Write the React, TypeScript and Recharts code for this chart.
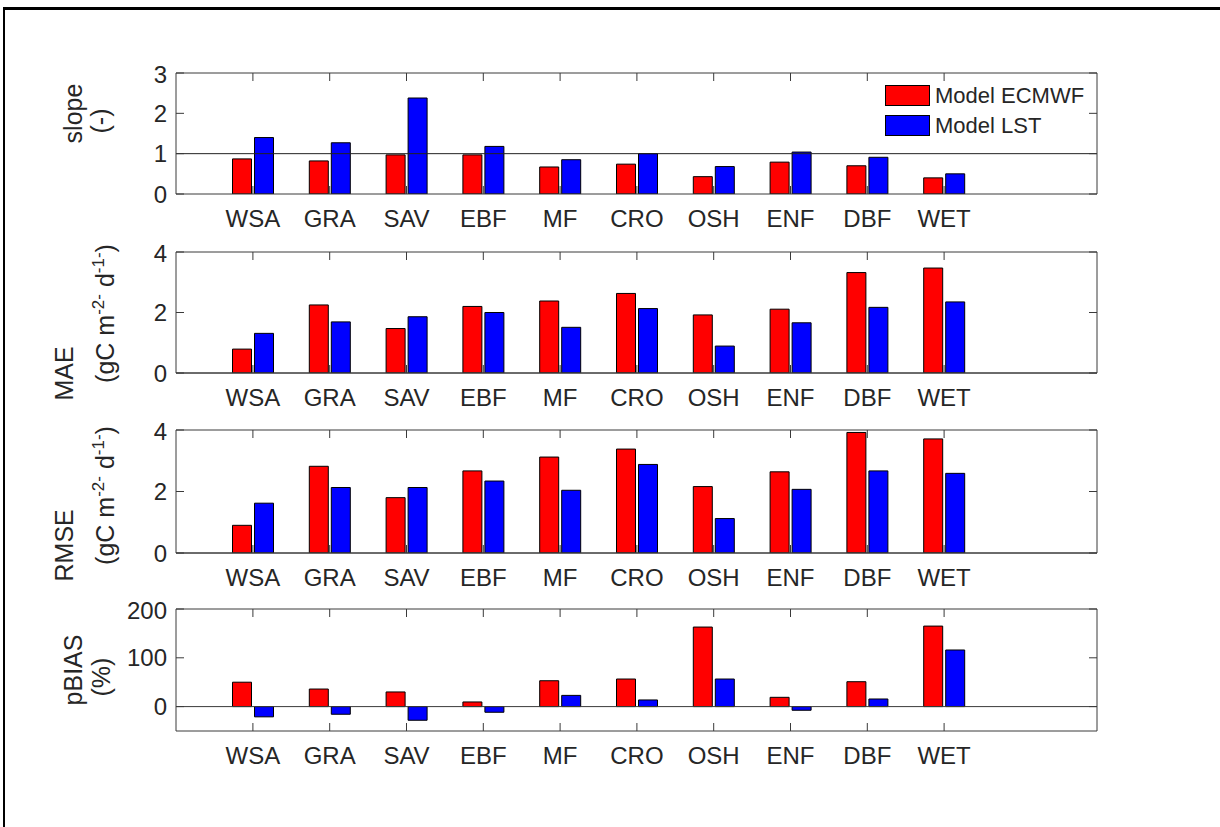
import React from "react";
import { BarChart, Bar, XAxis, YAxis, ReferenceLine, Legend, Label } from "recharts";

const CATEGORIES = ["WSA", "GRA", "SAV", "EBF", "MF", "CRO", "OSH", "ENF", "DBF", "WET"];

const SLOPE_ECMWF = [0.87, 0.82, 0.97, 0.97, 0.67, 0.74, 0.43, 0.79, 0.7, 0.4];
const SLOPE_LST = [1.4, 1.27, 2.38, 1.18, 0.85, 1.0, 0.68, 1.04, 0.91, 0.5];

const MAE_ECMWF = [0.79, 2.25, 1.47, 2.2, 2.38, 2.63, 1.92, 2.11, 3.32, 3.47];
const MAE_LST = [1.31, 1.69, 1.86, 2.0, 1.51, 2.13, 0.89, 1.66, 2.17, 2.35];

const RMSE_ECMWF = [0.9, 2.82, 1.8, 2.67, 3.12, 3.38, 2.16, 2.64, 3.92, 3.71];
const RMSE_LST = [1.62, 2.13, 2.13, 2.34, 2.04, 2.88, 1.12, 2.07, 2.67, 2.59];

const PBIAS_ECMWF = [50, 36, 30, 9.5, 53, 56.5, 163, 19, 51, 165];
const PBIAS_LST = [-21, -15.7, -28, -11.6, 23, 13.6, 56.5, -7.5, 15.6, 116];

const SLOPE_TICKS = [0, 1, 2, 3];
const MAE_TICKS = [0, 2, 4];
const RMSE_TICKS = [0, 2, 4];
const PBIAS_TICKS = [0, 100, 200];

const FONT = "'Liberation Sans', Arial, Helvetica, sans-serif";
const AXIS = "#3a3a3a";
const TEXT = "#262626";
const CHART_W = 1220;
const M_TOP = 12;
const M_BOTTOM = 50;

const tickStyle = { fill: TEXT, fontSize: 24, fontFamily: FONT };

type YLabelLine = {
  text: React.ReactNode;
  x: number;
  dy: number;
  anchor?: "start" | "middle" | "end";
};

const unitLine = (
  <>
    (gC m
    <tspan dy={-10} fontSize={17}>
      -2-
    </tspan>
    <tspan dy={10}> d</tspan>
    <tspan dy={-10} fontSize={17}>
      -1-
    </tspan>
    <tspan dy={10}>)</tspan>
  </>
);

function makeYLabel(lines: YLabelLine[]) {
  return (props: any) => {
    const vb = props.viewBox || {};
    const cy = vb.y + vb.height / 2;
    return (
      <g>
        {lines.map((l, i) => (
          <text
            key={i}
            x={l.x}
            y={cy + l.dy}
            transform={`rotate(-90, ${l.x}, ${cy + l.dy})`}
            textAnchor={l.anchor || "middle"}
            fill={TEXT}
            fontSize={25}
            fontFamily={FONT}
          >
            {l.text}
          </text>
        ))}
      </g>
    );
  };
}

function renderLegend(props: any) {
  const { payload } = props;
  return (
    <div style={{ fontFamily: FONT }}>
      {(payload || []).map((entry: any) => (
        <div key={entry.value} style={{ display: "flex", alignItems: "center", height: 30 }}>
          <span
            style={{
              display: "inline-block",
              width: 45,
              height: 21,
              background: entry.color,
              border: "1px solid #000",
              boxSizing: "border-box",
            }}
          />
          <span style={{ marginLeft: 5, fontSize: 22, color: TEXT }}>{entry.value}</span>
        </div>
      ))}
    </div>
  );
}

interface PanelProps {
  plotTop: number;
  plotBottom: number;
  ecmwf: number[];
  lst: number[];
  domain: [number, number];
  ticks: number[];
  refY: number;
  refColor: string;
  ylabel: YLabelLine[];
  showLegend?: boolean;
}

function Panel({ plotTop, plotBottom, ecmwf, lst, domain, ticks, refY, refColor, ylabel, showLegend }: PanelProps) {
  const data = CATEGORIES.map((cat, i) => ({ cat, ecmwf: ecmwf[i], lst: lst[i] }));
  const height = M_TOP + (plotBottom - plotTop) + M_BOTTOM;
  const padding = { left: 38.5, right: 114.5 };

  return (
    <div style={{ position: "absolute", left: 0, top: plotTop - M_TOP }}>
      <BarChart
        width={CHART_W}
        height={height}
        data={data}
        margin={{ top: M_TOP - 1, right: 122, bottom: M_BOTTOM - 1, left: 175 }}
        barCategoryGap={18}
        barGap={3}
      >
        <XAxis
          dataKey="cat"
          height={1}
          interval={0}
          padding={padding}
          tickSize={-8}
          tickMargin={24}
          tick={tickStyle}
          axisLine={{ stroke: AXIS }}
          tickLine={{ stroke: AXIS }}
        />
        <XAxis
          xAxisId="top"
          dataKey="cat"
          orientation="top"
          height={1}
          interval={0}
          padding={padding}
          tickSize={-8}
          tickFormatter={() => ""}
          axisLine={{ stroke: AXIS }}
          tickLine={{ stroke: AXIS }}
        />
        <YAxis
          width={1}
          domain={domain}
          ticks={ticks}
          allowDataOverflow
          tickSize={-8}
          tickMargin={17}
          tick={tickStyle}
          axisLine={{ stroke: AXIS }}
          tickLine={{ stroke: AXIS }}
        >
          <Label content={makeYLabel(ylabel)} />
        </YAxis>
        <YAxis
          yAxisId="right"
          orientation="right"
          width={1}
          domain={domain}
          ticks={ticks}
          allowDataOverflow
          tickSize={-8}
          tickFormatter={() => ""}
          axisLine={{ stroke: AXIS }}
          tickLine={{ stroke: AXIS }}
        />
        <Bar dataKey="ecmwf" name="Model ECMWF" fill="#ff0000" stroke="#000" strokeWidth={1} isAnimationActive={false} />
        <Bar dataKey="lst" name="Model LST" fill="#0000ff" stroke="#000" strokeWidth={1} isAnimationActive={false} />
        <ReferenceLine y={refY} stroke={refColor} strokeWidth={1} />
        {showLegend && (
          <Legend
            layout="horizontal"
            align="center"
            verticalAlign="middle"
            wrapperStyle={{ left: 885, top: 19.5, width: 220, height: 60 }}
            content={renderLegend}
          />
        )}
      </BarChart>
    </div>
  );
}

export default function App() {
  return (
    <div
      style={{
        position: "fixed",
        left: 0,
        top: 0,
        width: 1220,
        height: 827,
        overflow: "hidden",
        background: "#fff",
        fontFamily: FONT,
      }}
    >
      <div
        style={{
          position: "absolute",
          left: 3,
          top: 7,
          width: 1400,
          height: 1000,
          borderTop: "3px solid #000",
          borderLeft: "2px solid #000",
        }}
      />
      <Panel
        plotTop={73}
        plotBottom={194}
        ecmwf={SLOPE_ECMWF}
        lst={SLOPE_LST}
        domain={[0, 3]}
        ticks={SLOPE_TICKS}
        refY={1}
        refColor="#222"
        showLegend
        ylabel={[
          { text: "slope", x: 82, dy: -20 },
          { text: "(-)", x: 109, dy: -12.5 },
        ]}
      />
      <Panel
        plotTop={252}
        plotBottom={373}
        ecmwf={MAE_ECMWF}
        lst={MAE_LST}
        domain={[0, 4]}
        ticks={MAE_TICKS}
        refY={0}
        refColor={AXIS}
        ylabel={[
          { text: "MAE", x: 73, dy: 88, anchor: "start" },
          { text: unitLine, x: 114, dy: 1 },
        ]}
      />
      <Panel
        plotTop={430}
        plotBottom={553}
        ecmwf={RMSE_ECMWF}
        lst={RMSE_LST}
        domain={[0, 4]}
        ticks={RMSE_TICKS}
        refY={0}
        refColor={AXIS}
        ylabel={[
          { text: "RMSE", x: 73, dy: 90, anchor: "start" },
          { text: unitLine, x: 114, dy: 4 },
        ]}
      />
      <Panel
        plotTop={609}
        plotBottom={731}
        ecmwf={PBIAS_ECMWF}
        lst={PBIAS_LST}
        domain={[-50, 200]}
        ticks={PBIAS_TICKS}
        refY={0}
        refColor={AXIS}
        ylabel={[
          { text: "pBIAS", x: 82, dy: 0 },
          { text: "(%)", x: 110, dy: 7 },
        ]}
      />
    </div>
  );
}
